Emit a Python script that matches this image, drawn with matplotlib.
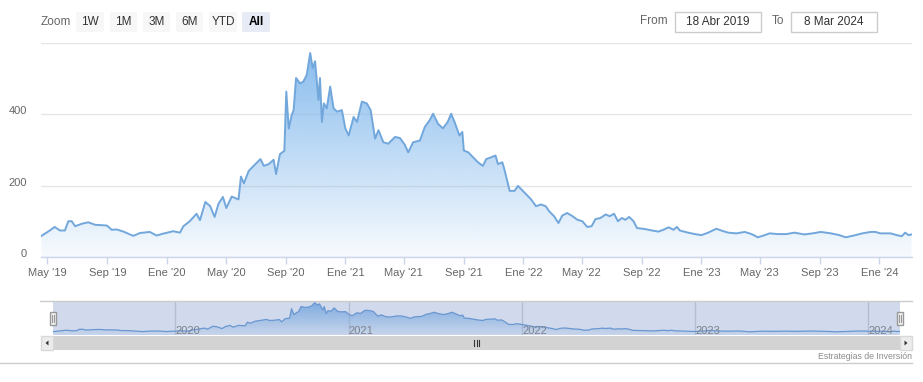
import matplotlib
matplotlib.use('Agg')
import matplotlib.pyplot as plt
import matplotlib.dates as mdates
import matplotlib.transforms as mtransforms
from matplotlib.patches import Rectangle, FancyBboxPatch, Polygon
import numpy as np
import datetime as dt

plt.rcParams['font.family'] = ['Liberation Sans', 'DejaVu Sans']

# ---------------- data ----------------
dates = [
    '2019-04-19', '2019-05-06', '2019-05-16', '2019-05-27', '2019-06-06', '2019-06-13',
    '2019-06-20', '2019-06-27', '2019-07-11', '2019-07-24', '2019-08-07', '2019-08-31',
    '2019-09-10', '2019-09-20', '2019-10-04', '2019-10-24', '2019-11-07', '2019-11-27',
    '2019-12-11', '2019-12-24', '2020-01-14', '2020-01-28', '2020-02-04', '2020-02-17',
    '2020-03-02', '2020-03-09', '2020-03-20', '2020-03-30', '2020-04-08', '2020-04-16',
    '2020-04-25', '2020-05-02', '2020-05-13', '2020-05-27', '2020-06-01', '2020-06-07',
    '2020-06-17', '2020-06-27', '2020-07-11', '2020-07-18', '2020-07-28', '2020-08-07',
    '2020-08-12', '2020-08-20', '2020-08-29', '2020-09-02', '2020-09-07', '2020-09-13',
    '2020-09-17', '2020-09-22', '2020-09-30', '2020-10-07', '2020-10-14', '2020-10-21',
    '2020-10-26', '2020-10-31', '2020-11-07', '2020-11-10', '2020-11-14', '2020-11-18',
    '2020-11-24', '2020-12-01', '2020-12-08', '2020-12-15', '2020-12-25', '2021-01-01',
    '2021-01-08', '2021-01-18', '2021-01-25', '2021-02-04', '2021-02-14', '2021-02-22',
    '2021-03-03', '2021-03-10', '2021-03-20', '2021-03-30', '2021-04-13', '2021-04-23',
    '2021-05-03', '2021-05-10', '2021-05-20', '2021-06-03', '2021-06-13', '2021-06-23',
    '2021-06-30', '2021-07-10', '2021-07-20', '2021-07-30', '2021-08-06', '2021-08-13',
    '2021-08-23', '2021-08-29', '2021-09-01', '2021-09-10', '2021-09-20', '2021-09-30',
    '2021-10-10', '2021-10-17', '2021-10-27', '2021-11-05', '2021-11-10', '2021-11-19',
    '2021-11-23', '2021-11-28', '2021-12-04', '2021-12-14', '2021-12-21', '2021-12-31',
    '2022-01-07', '2022-01-17', '2022-01-27', '2022-02-06', '2022-02-16', '2022-02-23',
    '2022-03-05', '2022-03-14', '2022-03-22', '2022-04-01', '2022-04-12', '2022-04-22',
    '2022-05-02', '2022-05-12', '2022-05-21', '2022-05-29', '2022-06-08', '2022-06-19',
    '2022-06-27', '2022-07-06', '2022-07-14', '2022-07-22', '2022-07-29', '2022-08-06',
    '2022-08-15', '2022-08-22', '2022-09-08', '2022-09-22', '2022-10-05', '2022-10-15',
    '2022-10-26', '2022-11-05', '2022-11-12', '2022-11-18', '2022-12-05', '2022-12-19',
    '2023-01-01', '2023-01-15', '2023-02-01', '2023-02-11', '2023-02-25', '2023-03-14',
    '2023-03-31', '2023-04-14', '2023-04-27', '2023-05-11', '2023-05-21', '2023-06-07',
    '2023-06-24', '2023-07-11', '2023-07-31', '2023-08-17', '2023-09-03', '2023-09-24',
    '2023-10-11', '2023-10-24', '2023-11-10', '2023-11-27', '2023-12-14', '2023-12-24',
    '2024-01-03', '2024-01-24', '2024-02-06', '2024-02-16', '2024-02-23', '2024-03-01',
    '2024-03-07',
]
prices = [
    60, 75, 85, 75, 75, 101,
    101, 87, 94, 98, 91, 89,
    77, 78, 72, 60, 68, 71,
    61, 66, 73, 69, 87, 101,
    122, 104, 155, 143, 113, 150,
    169, 138, 170, 162, 226, 207,
    242, 256, 275, 256, 261, 273,
    233, 289, 298, 464, 360, 398,
    412, 502, 487, 492, 511, 572,
    530, 549, 440, 502, 379, 431,
    417, 478, 417, 408, 412, 361,
    341, 393, 379, 436, 431, 412,
    332, 356, 322, 318, 337, 334,
    315, 294, 322, 327, 365, 384,
    402, 374, 361, 379, 402, 379,
    341, 351, 299, 294, 280, 266,
    256, 275, 280, 285, 261, 266,
    247, 219, 186, 186, 200, 186,
    176, 162, 143, 148, 143, 129,
    115, 96, 117, 124, 115, 105,
    101, 85, 87, 107, 110, 120,
    115, 122, 101, 110, 105, 113,
    101, 82, 79, 75, 72, 77,
    84, 77, 85, 75, 69, 65,
    62, 69, 80, 75, 69, 67,
    71, 65, 56, 62, 67, 65,
    65, 69, 64, 67, 71, 67,
    62, 56, 61, 67, 71, 71,
    67, 67, 62, 59, 69, 62,
    64,
]

range_start = '2019-04-18'
range_end = '2024-03-08'
x_tick_dates = ['2019-05-01', '2019-09-01', '2020-01-01', '2020-05-01', '2020-09-01',
                '2021-01-01', '2021-05-01', '2021-09-01', '2022-01-01', '2022-05-01',
                '2022-09-01', '2023-01-01', '2023-05-01', '2023-09-01', '2024-01-01']
x_tick_labels = ["May '19", "Sep '19", "Ene '20", "May '20", "Sep '20",
                 "Ene '21", "May '21", "Sep '21", "Ene '22", "May '22",
                 "Sep '22", "Ene '23", "May '23", "Sep '23", "Ene '24"]
y_ticks = [0, 200, 400, 600]
y_tick_labels = ['0', '200', '400', '']
nav_year_dates = ['2020-01-01', '2021-01-01', '2022-01-01', '2023-01-01', '2024-01-01']
nav_year_labels = ['2020', '2021', '2022', '2023', '2024']
zoom_buttons = ['1W', '1M', '3M', '6M', 'YTD', 'All']
selected_button = 'All'
from_label, to_label = 'From', 'To'
date_from_text = '18 Abr 2019'
date_to_text = '8 Mar 2024'
credit_text = 'Estrategias de Inversión'

# ---------------- figure ----------------
W, H = 923, 382
fig = plt.figure(figsize=(W / 100, H / 100), dpi=100)
fig.patch.set_facecolor('white')


def ax_px(l, t, r, b, **kw):
    return fig.add_axes([l / W, 1 - b / H, (r - l) / W, (b - t) / H], **kw)


def to_num(ds):
    return mdates.date2num([dt.datetime.strptime(d, '%Y-%m-%d') for d in ds])


xs = to_num(dates)
ys = np.array(prices, dtype=float)
x0, x1 = to_num([range_start, range_end])

LINE = '#72a7dc'
BASE = np.array([124, 181, 236]) / 255.0


def gradient_area(ax, top, a_top, a_bot, lw, lc):
    poly = ax.fill_between(xs, ys, 0, color='none', lw=0)
    g = np.linspace(1, 0, 256).reshape(-1, 1)
    rgba = np.zeros((256, 1, 4))
    rgba[..., :3] = BASE
    rgba[..., 3] = a_bot + (a_top - a_bot) * g
    im = ax.imshow(rgba, extent=[xs[0], xs[-1], 0, top], aspect='auto',
                   origin='upper', zorder=1, interpolation='bilinear')
    im.set_clip_path(poly.get_paths()[0], transform=ax.transData)
    ax.plot(xs, ys, color=lc, lw=lw, zorder=2, solid_joinstyle='round')


# ---- main chart ----
ax = ax_px(41, 43, 912, 257.3)
ax.patch.set_alpha(0)
gradient_area(ax, ys.max(), 0.9, 0.06, 1.4, LINE)
ax.set_xlim(x0, x1)
ax.set_ylim(0, 600)
ax.set_aspect('auto')
for s in ['top', 'right', 'left']:
    ax.spines[s].set_visible(False)
ax.spines['bottom'].set_color('#ccd6eb')
ax.spines['bottom'].set_linewidth(1)
ax.set_yticks(y_ticks)
ax.set_yticklabels(y_tick_labels)
ax.yaxis.grid(True, color='#e6e6e6', lw=1)
ax.set_axisbelow(True)
ax.tick_params(axis='y', length=0, pad=10, labelsize=8, labelcolor='#666666')
for lab in ax.get_yticklabels():
    lab.set_transform(lab.get_transform() +
                      mtransforms.ScaledTranslation(0, 4 / 100, fig.dpi_scale_trans))
ax.set_xticks(to_num(x_tick_dates))
ax.set_xticklabels(x_tick_labels)
ax.tick_params(axis='x', length=5, width=1, color='#ccd6eb', pad=2.5,
               labelsize=8, labelcolor='#666666')

# ---- navigator ----
nav = ax_px(53, 301, 900, 335)
nav.patch.set_alpha(0)
for d in to_num(nav_year_dates):
    nav.axvline(d, color='#d8d8d8', lw=1, zorder=0)
gradient_area(nav, ys.max(), 0.9, 0.1, 0.9, '#6b9fd8')
nav.set_xlim(x0, x1)
nav.set_ylim(0, 600)
nav.set_aspect('auto')
nav.axvspan(x0, x1, color=(102 / 255, 133 / 255, 194 / 255), alpha=0.3, lw=0, zorder=3)
for d, lab in zip(to_num(nav_year_dates), nav_year_labels):
    nav.text(d, 0.13, lab, transform=mtransforms.blended_transform_factory(nav.transData, nav.transAxes),
             ha='left', va='center', fontsize=8, color='#7d828c', zorder=5)
nav.set_xticks([])
nav.set_yticks([])
for s in nav.spines.values():
    s.set_visible(False)

# ---- decorations (top overlay, pixel coords) ----
deco = ax_px(0, 0, W, H, zorder=5)
deco.patch.set_alpha(0)
deco.set_xlim(0, W)
deco.set_ylim(H, 0)
deco.axis('off')

# range selector
deco.text(41, 22, 'Zoom', ha='left', va='center', fontsize=8.5, color='#666666')
btn_x = [(76, 104), (110, 137), (143, 170), (176, 203), (209, 237), (242, 270)]
for (l, r), lab in zip(btn_x, zoom_buttons):
    sel = lab == selected_button
    deco.add_patch(FancyBboxPatch((l, 12), r - l, 20, boxstyle='round,pad=0,rounding_size=2',
                                  fc='#e6ebf5' if sel else '#f7f7f7', ec='none'))
    deco.text((l + r) / 2, 22, lab, ha='center', va='center', fontsize=8.5,
              color='#000000' if sel else '#333333', fontweight='bold' if sel else 'normal')

deco.text(668, 21.5, from_label, ha='right', va='center', fontsize=8.5, color='#666666')
deco.add_patch(Rectangle((675, 12), 86, 20, fc='white', ec='#cccccc', lw=1))
deco.text(718, 22, date_from_text, ha='center', va='center', fontsize=8.5, color='#333333')
deco.text(784, 21.5, to_label, ha='right', va='center', fontsize=8.5, color='#666666')
deco.add_patch(Rectangle((791, 12), 86, 20, fc='white', ec='#cccccc', lw=1))
deco.text(834, 22, date_to_text, ha='center', va='center', fontsize=8.5, color='#333333')

# navigator outline & handles
deco.plot([40, 912], [301, 301], color='#cccccc', lw=1)
for hx in (49.5, 896.5):
    deco.add_patch(Rectangle((hx, 312), 6.5, 13, fc='#f2f2f2', ec='#999999', lw=1))
    deco.plot([hx + 2.3, hx + 2.3], [315, 322], color='#999999', lw=0.8)
    deco.plot([hx + 4.2, hx + 4.2], [315, 322], color='#999999', lw=0.8)

# scrollbar
deco.add_patch(Rectangle((53, 336), 847, 14, fc='#d3d3d3', ec='none'))
deco.add_patch(Rectangle((41, 336), 12, 14, fc='#ececec', ec='#d9d9d9', lw=1))
deco.add_patch(Rectangle((900, 336), 12, 14, fc='#ececec', ec='#d9d9d9', lw=1))
deco.add_patch(Polygon([[48.5, 340.5], [48.5, 345.5], [45.5, 343]], closed=True, fc='#333333', ec='none'))
deco.add_patch(Polygon([[904.5, 340.5], [904.5, 345.5], [907.5, 343]], closed=True, fc='#333333', ec='none'))
for gx in (474, 476.5, 479):
    deco.plot([gx, gx], [340, 346], color='#333333', lw=0.8)

# credit + bottom rule
deco.text(912, 356.5, credit_text, ha='right', va='center', fontsize=6.3, color='#8c8c8c')
deco.plot([0, 912], [363, 363], color='#cccccc', lw=1)

fig.savefig('out.png', dpi=100, facecolor='white')
